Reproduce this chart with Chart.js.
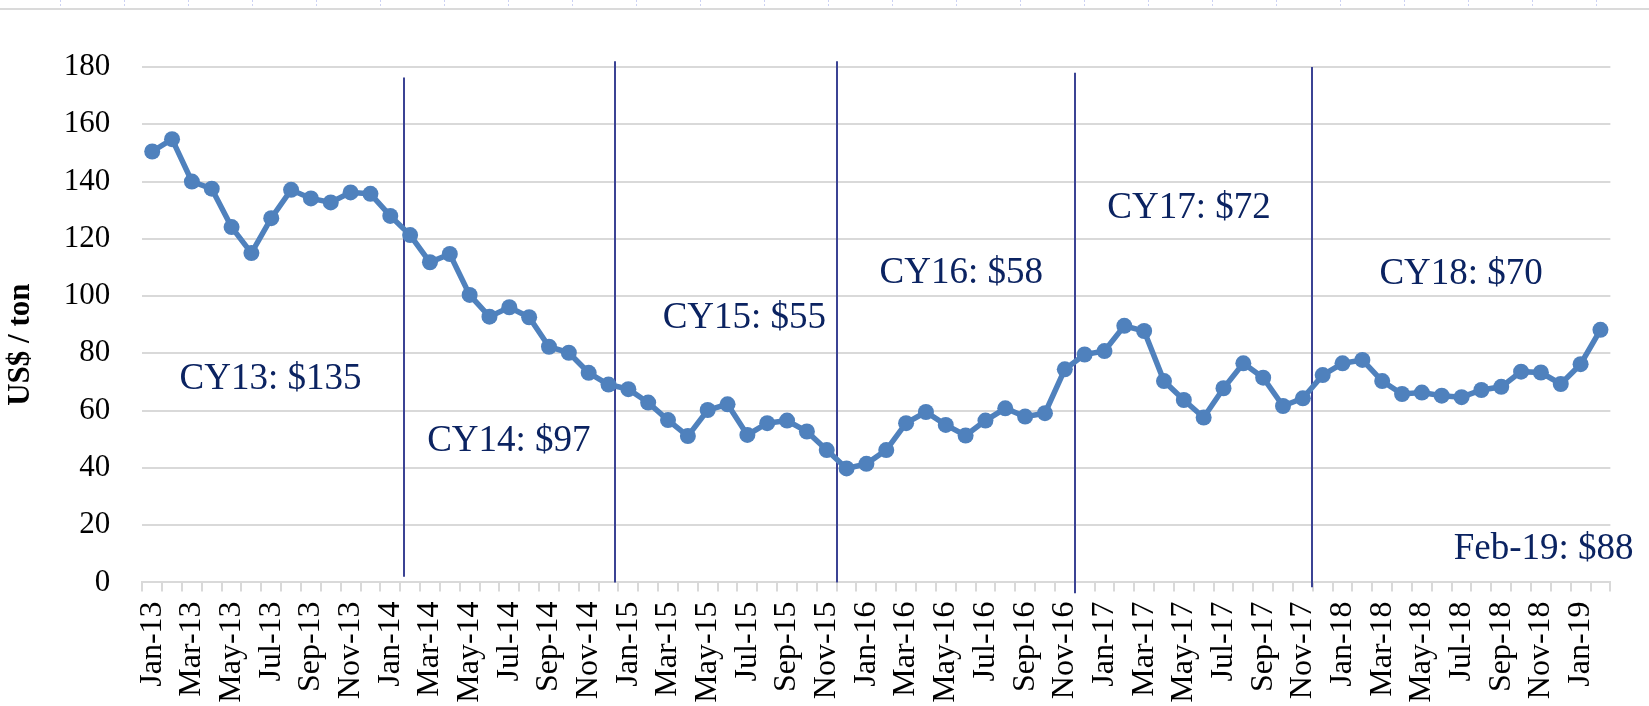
<!DOCTYPE html>
<html>
<head>
<meta charset="utf-8">
<title>US$ / ton</title>
<script src="https://cdn.jsdelivr.net/npm/chart.js@4.4.0/dist/chart.umd.min.js"></script>
<style>
    html, body { margin: 0; padding: 0; background: #fff; }
    canvas { display: block; }
</style>
</head>
<body>
<canvas id="priceChart" width="1649" height="706"></canvas>
<script>
// ==================== data ====================
const months = [
    'Jan-13', 'Feb-13', 'Mar-13', 'Apr-13', 'May-13', 'Jun-13', 'Jul-13', 'Aug-13', 'Sep-13', 'Oct-13', 'Nov-13', 'Dec-13',
    'Jan-14', 'Feb-14', 'Mar-14', 'Apr-14', 'May-14', 'Jun-14', 'Jul-14', 'Aug-14', 'Sep-14', 'Oct-14', 'Nov-14', 'Dec-14',
    'Jan-15', 'Feb-15', 'Mar-15', 'Apr-15', 'May-15', 'Jun-15', 'Jul-15', 'Aug-15', 'Sep-15', 'Oct-15', 'Nov-15', 'Dec-15',
    'Jan-16', 'Feb-16', 'Mar-16', 'Apr-16', 'May-16', 'Jun-16', 'Jul-16', 'Aug-16', 'Sep-16', 'Oct-16', 'Nov-16', 'Dec-16',
    'Jan-17', 'Feb-17', 'Mar-17', 'Apr-17', 'May-17', 'Jun-17', 'Jul-17', 'Aug-17', 'Sep-17', 'Oct-17', 'Nov-17', 'Dec-17',
    'Jan-18', 'Feb-18', 'Mar-18', 'Apr-18', 'May-18', 'Jun-18', 'Jul-18', 'Aug-18', 'Sep-18', 'Oct-18', 'Nov-18', 'Dec-18',
    'Jan-19', 'Feb-19'
];

const prices = [
    150.5, 154.8, 140.0, 137.5, 124.1, 115.0, 127.2, 137.1, 134.1, 132.7, 136.2, 135.7,
    128.0, 121.3, 111.8, 114.7, 100.4, 92.8, 96.1, 92.6, 82.3, 80.2, 73.2, 69.1,
    67.5, 62.8, 56.7, 51.1, 60.2, 62.2, 51.5, 55.6, 56.5, 52.7, 46.2, 39.8,
    41.4, 46.2, 55.6, 59.5, 55.0, 51.3, 56.5, 60.8, 57.9, 59.1, 74.4, 79.6,
    80.8, 89.6, 87.8, 70.3, 63.7, 57.6, 67.8, 76.5, 71.5, 61.6, 64.3, 72.4,
    76.5, 77.7, 70.3, 65.8, 66.3, 65.2, 64.7, 67.2, 68.3, 73.6, 73.3, 69.3,
    76.2, 88.2
];

const yTicks = [0, 20, 40, 60, 80, 100, 120, 140, 160, 180];

// year averages written on the plot (x = month index, y = US$)
const noteLabels = ['CY13: $135', 'CY14: $97', 'CY15: $55', 'CY16: $58', 'CY17: $72', 'CY18: $70', 'Feb-19: $88'];
const noteX = [1.38, 13.86, 25.73, 36.66, 48.14, 61.86, 65.6];
const noteY = [67.7, 46.0, 88.7, 104.4, 127.4, 104.2, 8.2];

// hand drawn year dividers (month index, top / bottom in US$)
const dividerX = [12.71, 23.34, 34.5, 46.49, 58.48];
const dividerTop = [176.3, 182, 182, 178, 180];
const dividerBottom = [2.0, 0, 0, -3.8, -1.7];

const SERIF = '"Liberation Serif", "Times New Roman", serif';

// ==================== overlay plugin ====================
const overlayPlugin = {
    id: 'overlay',
    beforeDraw(chart) {
        const ctx = chart.ctx;
        ctx.save();
        // slide strip at the very top
        ctx.strokeStyle = '#dadada';
        ctx.lineWidth = 2;
        ctx.beginPath();
        ctx.moveTo(0, 9);
        ctx.lineTo(chart.width, 9);
        ctx.stroke();
        ctx.strokeStyle = 'rgba(170, 180, 235, 0.6)';
        ctx.lineWidth = 1;
        ctx.setLineDash([2, 2]);
        for (let x = 60.5; x < chart.width; x += 64) {
            ctx.beginPath();
            ctx.moveTo(x, 0);
            ctx.lineTo(x, 8);
            ctx.stroke();
        }
        ctx.restore();
    },
    beforeDatasetsDraw(chart) {
        const ctx = chart.ctx;
        const xs = chart.scales.x;
        const ys = chart.scales.y;
        ctx.save();
        ctx.strokeStyle = '#3b4394';
        ctx.lineWidth = 2;
        dividerX.forEach((v, i) => {
            const x = Math.round(xs.getPixelForValue(v));
            ctx.beginPath();
            ctx.moveTo(x, ys.getPixelForValue(dividerTop[i]));
            ctx.lineTo(x, ys.getPixelForValue(dividerBottom[i]));
            ctx.stroke();
        });
        ctx.restore();
    },
    afterDraw(chart) {
        const ctx = chart.ctx;
        const xs = chart.scales.x;
        const ys = chart.scales.y;
        const area = chart.chartArea;
        ctx.save();
        // annotations
        ctx.fillStyle = '#0b2361';
        ctx.font = '37px ' + SERIF;
        ctx.textAlign = 'left';
        ctx.textBaseline = 'alphabetic';
        noteLabels.forEach((t, i) => {
            ctx.fillText(t, xs.getPixelForValue(noteX[i]), ys.getPixelForValue(noteY[i]));
        });
        // y axis title
        ctx.fillStyle = '#000';
        ctx.font = 'bold 31px ' + SERIF;
        ctx.textAlign = 'center';
        ctx.textBaseline = 'middle';
        ctx.translate(21, area.top + (area.bottom - area.top) / 2 + 20);
        ctx.rotate(-Math.PI / 2);
        ctx.fillText('US$ / ton', 0, 0);
        ctx.restore();
    }
};

// ==================== chart ====================
const ctx = document.getElementById('priceChart').getContext('2d');
const chart = new Chart(ctx, {
    type: 'line',
    data: {
        labels: months,
        datasets: [{
            label: 'US$ / ton',
            data: prices,
            borderColor: '#4f81bd',
            backgroundColor: '#4f81bd',
            borderWidth: 5.5,
            pointRadius: 8,
            pointBorderWidth: 0,
            pointBackgroundColor: '#4f81bd',
            tension: 0,
            fill: false
        }]
    },
    options: {
        responsive: false,
        animation: false,
        devicePixelRatio: 1,
        layout: { padding: { top: 67, right: 24, bottom: 0, left: 0 } },
        plugins: {
            legend: { display: false },
            tooltip: { enabled: false }
        },
        scales: {
            x: {
                offset: true,
                afterFit: s => { s.height = 123.6; },
                grid: {
                    offset: true,
                    drawOnChartArea: false,
                    drawTicks: true,
                    tickLength: 9,
                    color: '#d9d9d9',
                    lineWidth: 2
                },
                border: { display: true, color: '#d9d9d9', width: 2 },
                ticks: {
                    autoSkip: false,
                    maxRotation: 90,
                    minRotation: 90,
                    padding: 10,
                    color: '#000',
                    font: { family: SERIF, size: 32 },
                    callback: function(value, index) {
                        return index % 2 === 0 ? this.getLabelForValue(value) : '';
                    }
                }
            },
            y: {
                min: yTicks[0],
                max: yTicks[yTicks.length - 1],
                afterFit: s => { s.width = 142.3; },
                afterBuildTicks: s => { s.ticks = yTicks.map(v => ({ value: v })); },
                grid: { color: '#d9d9d9', lineWidth: 2, drawTicks: false },
                border: { display: false },
                ticks: {
                    padding: 32,
                    color: '#000',
                    font: { family: SERIF, size: 31 }
                }
            }
        }
    },
    plugins: [overlayPlugin]
});
</script>
</body>
</html>
